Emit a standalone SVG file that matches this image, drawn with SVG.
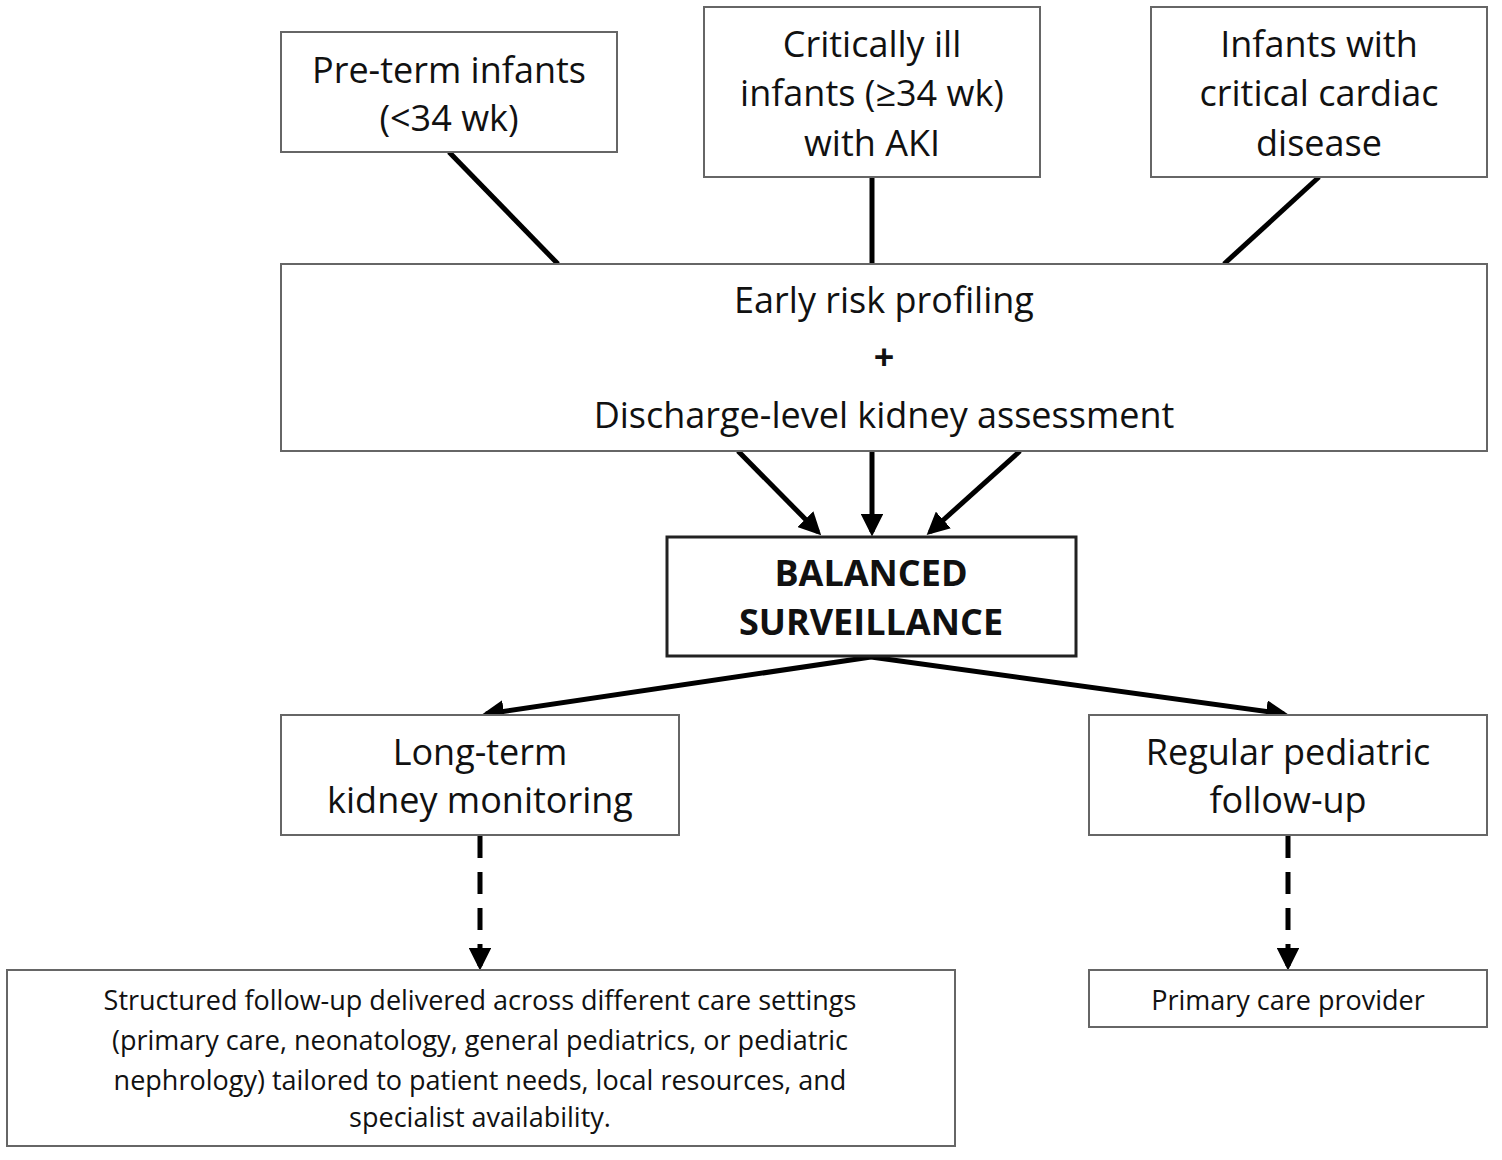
<svg xmlns="http://www.w3.org/2000/svg" width="1502" height="1160" viewBox="0 0 1502 1160">
<defs>
<style>
rect{fill:#fff;stroke:#666;stroke-width:2}
text{font-family:"Open Sans","Liberation Sans",sans-serif;font-size:36px;fill:#111;text-anchor:middle}
.s{font-size:27px}
.b{font-weight:bold}
.c line{stroke:#000;stroke-width:5}
</style>
<marker id="a" viewBox="0 0 10 10" refX="8" refY="5" markerWidth="4.5" markerHeight="4.5" orient="auto" markerUnits="strokeWidth"><path d="M0,0L10,5L0,10z" fill="#000"/></marker>
</defs>
<rect width="1502" height="1160" style="fill:#fff;stroke:none"/>
<g class="c">
<line x1="449" y1="152" x2="558" y2="264"/>
<line x1="872" y1="177" x2="872" y2="264"/>
<line x1="1319" y1="177" x2="1224" y2="264"/>
<line x1="738" y1="451" x2="818" y2="532" marker-end="url(#a)"/>
<line x1="872" y1="451" x2="872" y2="532" marker-end="url(#a)"/>
<line x1="1020" y1="451" x2="930" y2="532" marker-end="url(#a)"/>
<line x1="871" y1="657" x2="486" y2="714" marker-end="url(#a)"/>
<line x1="871" y1="657" x2="1284" y2="714" marker-end="url(#a)"/>
<line x1="480" y1="836" x2="480" y2="966" stroke-dasharray="22,14" marker-end="url(#a)"/>
<line x1="1288" y1="836" x2="1288" y2="966" stroke-dasharray="22,14" marker-end="url(#a)"/>
</g>
<g id="preterm"><rect x="281" y="32" width="336" height="120"/><text x="449" y="83">Pre-term infants</text><text x="449" y="131">(&lt;34 wk)</text></g>
<g id="critical"><rect x="704" y="7" width="336" height="170"/><text x="872" y="57">Critically ill</text><text x="872" y="106">infants (≥34 wk)</text><text x="872" y="156">with AKI</text></g>
<g id="cardiac"><rect x="1151" y="7" width="336" height="170"/><text x="1319" y="57">Infants with</text><text x="1319" y="106">critical cardiac</text><text x="1319" y="156">disease</text></g>
<g id="risk"><rect x="281" y="264" width="1206" height="187"/><text x="884" y="313">Early risk profiling</text><text class="b" x="884" y="370">+</text><text x="884" y="428">Discharge-level kidney assessment</text></g>
<g id="balanced"><rect x="667" y="537" width="409" height="119" style="stroke:#222;stroke-width:3"/><text class="b" x="871" y="586">BALANCED</text><text class="b" x="871" y="635">SURVEILLANCE</text></g>
<g id="longterm"><rect x="281" y="715" width="398" height="120"/><text x="480" y="765">Long-term</text><text x="480" y="813">kidney monitoring</text></g>
<g id="regular"><rect x="1089" y="715" width="398" height="120"/><text x="1288" y="765">Regular pediatric</text><text x="1288" y="813">follow-up</text></g>
<g id="structured"><rect x="7" y="970" width="948" height="176"/><text class="s" x="480" y="1010">Structured follow-up delivered across different care settings</text><text class="s" x="480" y="1050">(primary care, neonatology, general pediatrics, or pediatric</text><text class="s" x="480" y="1090">nephrology) tailored to patient needs, local resources, and</text><text class="s" x="480" y="1127">specialist availability.</text></g>
<g id="primary"><rect x="1089" y="970" width="398" height="57"/><text class="s" x="1288" y="1010">Primary care provider</text></g>
</svg>
